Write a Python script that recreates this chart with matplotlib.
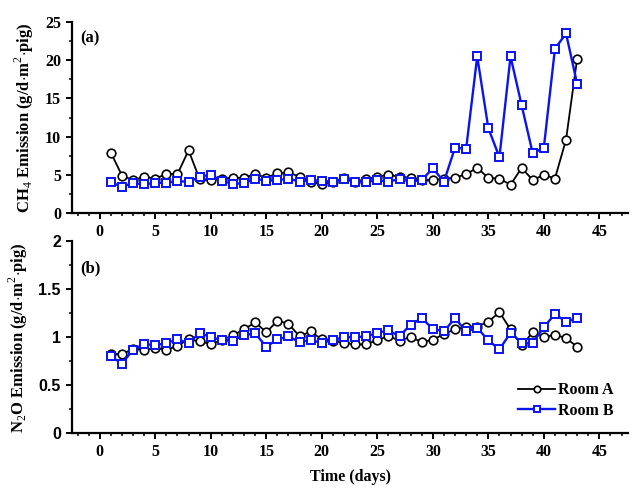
"""Daily CH4 and N2O emission from two rooms, two stacked panels -> out.png."""
import matplotlib
matplotlib.use("Agg")
import matplotlib.pyplot as plt
from matplotlib.ticker import MultipleLocator

days = list(range(1, 44))

ch4_room_a = [7.9, 4.9, 4.3, 4.75, 4.5, 5.1, 5.1, 8.2, 4.4, 4.3,
              4.5, 4.6, 4.6, 5.1, 4.6, 5.2, 5.3, 4.75, 4.1, 3.75,
              4.1, 4.6, 4.1, 4.45, 4.75, 5.0, 4.75, 4.6, 4.3, 4.3,
              4.5, 4.6, 5.1, 5.9, 4.6, 4.5, 3.7, 5.9, 4.3, 5.0,
              4.5, 9.6, 20.2]
ch4_room_b = [4.0, 3.45, 3.9, 3.75, 3.95, 3.95, 4.2, 4.05, 4.75, 5.0,
              4.2, 3.8, 3.9, 4.5, 4.2, 4.3, 4.5, 4.1, 4.3, 4.2,
              4.1, 4.4, 4.1, 4.1, 4.3, 4.1, 4.45, 4.1, 4.3, 5.85,
              4.1, 8.55, 8.4, 20.5, 11.1, 7.3, 20.5, 14.1, 7.8, 8.55,
              21.5, 23.5, 16.9]

n2o_room_a = [0.83, 0.82, 0.88, 0.87, 0.886, 0.87, 0.907, 0.98, 0.955, 0.93,
              0.97, 1.02, 1.08, 1.155, 1.05, 1.17, 1.14, 1.007, 1.06, 0.976,
              0.965, 0.94, 0.925, 0.925, 0.97, 1.01, 0.965, 1.0, 0.95, 0.97,
              1.035, 1.08, 1.11, 1.11, 1.16, 1.26, 1.08, 0.914, 1.05, 1.0,
              1.025, 0.99, 0.90]
n2o_room_b = [0.80, 0.725, 0.87, 0.93, 0.914, 0.94, 0.976, 0.94, 1.045, 1.0,
              0.97, 0.965, 1.02, 1.04, 0.90, 0.976, 1.007, 0.95, 0.97, 0.94,
              0.97, 1.0, 1.0, 1.007, 1.045, 1.07, 1.01, 1.13, 1.197, 1.087,
              1.06, 1.197, 1.06, 1.097, 0.966, 0.873, 1.045, 0.94, 0.94, 1.104,
              1.24, 1.16, 1.197]

SERIF = "Liberation Serif"
SANS = "Liberation Sans"
BLUE = "#0a14f0"
TICK_SIZE = 11.5

plt.rcParams["font.family"] = SERIF
plt.rcParams["mathtext.fontset"] = "custom"
plt.rcParams["mathtext.rm"] = SERIF

fig = plt.figure(figsize=(6.43, 4.96), dpi=100)
ax_top = fig.add_axes([0.112, 0.5706, 0.865, 0.385])
ax_bot = fig.add_axes([0.112, 0.1264, 0.865, 0.3877])


def style(ax, ylim, ymajor, tick_family):
    ax.set_xlim(-2.5, 47.6)
    ax.set_ylim(*ylim)
    ax.xaxis.set_major_locator(MultipleLocator(5))
    ax.xaxis.set_minor_locator(MultipleLocator(1))
    ax.yaxis.set_major_locator(MultipleLocator(ymajor))
    ax.yaxis.set_minor_locator(MultipleLocator(ymajor / 2))
    ax.yaxis.set_major_formatter(plt.FuncFormatter(lambda v, p: f"{v:g}"))
    for side in ("top", "right"):
        ax.spines[side].set_visible(False)
    for side in ("left", "bottom"):
        ax.spines[side].set_linewidth(1.6)
    ax.tick_params(which="major", direction="out", length=4.5, width=1.4)
    ax.tick_params(which="minor", direction="out", length=2.5, width=1.1)
    for lab in ax.get_xticklabels():
        lab.set_fontfamily(SERIF)
        lab.set_fontweight("bold")
        lab.set_fontsize(TICK_SIZE)
    for lab in ax.get_yticklabels():
        lab.set_fontfamily(tick_family)
        lab.set_fontweight("bold")
        lab.set_fontsize(TICK_SIZE)


for ax, a_vals, b_vals in ((ax_top, ch4_room_a, ch4_room_b),
                           (ax_bot, n2o_room_a, n2o_room_b)):
    ax.plot(days, a_vals, color="black", lw=1.3, marker="o", ms=6.2,
            mfc="white", mec="black", mew=1.2, label="Room A", zorder=3)
    ax.plot(days, b_vals, color=BLUE, lw=1.7, marker="s", ms=5.2,
            mfc="white", mec=BLUE, mew=1.4, label="Room B", zorder=4)

style(ax_top, (0, 25), 5, SERIF)
style(ax_bot, (0, 2), 0.5, SANS)

ax_top.set_ylabel(r"CH$_4$ Emission (g/d$\cdot$m$^2$$\cdot$pig)", fontsize=12,
                  fontweight="bold", labelpad=6)
ax_bot.set_ylabel(r"N$_2$O Emission (g/d$\cdot$m$^2$$\cdot$pig)", fontsize=12,
                  fontweight="bold", labelpad=6)
ax_bot.set_xlabel("Time (days)", fontsize=11.5, fontweight="bold", labelpad=6)

ax_top.text(0.015, 0.915, "(a)", transform=ax_top.transAxes, fontsize=12,
            fontweight="bold", va="center")
ax_bot.text(0.015, 0.86, "(b)", transform=ax_bot.transAxes, fontsize=12,
            fontweight="bold", va="center")

ax_bot.legend(loc="lower right", bbox_to_anchor=(1.0, 0.0), frameon=False,
              prop={"family": SERIF, "weight": "bold", "size": 11.5},
              handlelength=2.3, handletextpad=0.2, labelspacing=0.3,
              markerscale=0.75)

fig.savefig("out.png", dpi=100)
